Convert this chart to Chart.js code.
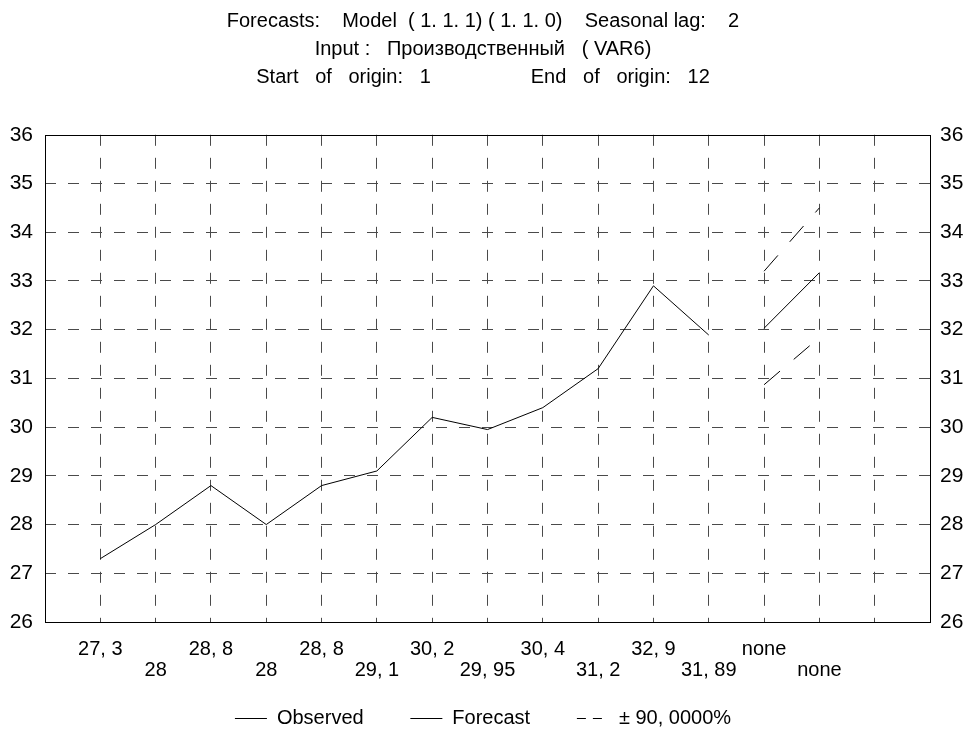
<!DOCTYPE html>
<html>
<head>
<meta charset="utf-8">
<script src="https://cdn.jsdelivr.net/npm/chart.js@4.4.1/dist/chart.umd.min.js"></script>
<style>
  html, body { margin: 0; padding: 0; background: #fff; }
</style>
</head>
<body>
<canvas id="chart" width="966" height="733"></canvas>
<script>
/* ------------------------------------------------------------------ */
/*  Data                                                               */
/* ------------------------------------------------------------------ */

var titleLines = [
  "Forecasts:    Model  ( 1. 1. 1) ( 1. 1. 0)    Seasonal lag:    2",
  "Input :   Производственный   ( VAR6)",
  "Start   of   origin:   1                  End   of   origin:   12"
];

// one label per case, printed under the x axis in two staggered rows
var xLabels  = ["27, 3", "28", "28, 8", "28", "28, 8", "29, 1", "30, 2", "29, 95", "30, 4", "31, 2", "32, 9", "31, 89", "none", "none"];
var observed = [27.3, 28, 28.8, 28, 28.8, 29.1, 30.2, 29.95, 30.4, 31.2, 32.9, 31.89, null, null];
var forecast = [null, null, null, null, null, null, null, null, null, null, null, null, 32.03, 33.17];
var upper    = [null, null, null, null, null, null, null, null, null, null, null, null, 33.2, 34.5];
var lower    = [null, null, null, null, null, null, null, null, null, null, null, null, 30.87, 31.84];

var legendNames = ["Observed", "Forecast", "\u00b1 90, 0000%"];

var yMin = 26, yMax = 36;
var xMax = 16;   // grid runs to case 15, frame to 16

/* ------------------------------------------------------------------ */
/*  Helpers                                                            */
/* ------------------------------------------------------------------ */

Chart.defaults.font.family = "'Liberation Sans', Arial, sans-serif";
Chart.defaults.color = "#000";

function toPoints(values) {
  return values.map(function (v, i) { return { x: i + 1, y: v }; });
}

var frame = {
  id: "frame",
  afterDatasetsDraw: function (chart) {
    var a = chart.chartArea, ctx = chart.ctx;
    ctx.save();
    ctx.strokeStyle = "#000";
    ctx.lineWidth = 1;
    ctx.strokeRect(Math.round(a.left) + 0.5, Math.round(a.top) + 0.5,
                   Math.round(a.right - a.left), Math.round(a.bottom - a.top));
    ctx.restore();
  },
};

var gridColor = "#4a4a4a";
var gridDash = [11, 12];
var boundDash = [21, 18];

// legend gap is kept small so the row sits close to the axis; the
// trailing spaces give the horizontal room between entries instead
function legendItems(chart) {
  return legendNames.map(function (name, i) {
    return {
      text: i < 2 ? name + "    " : name,
      datasetIndex: i,
      hidden: false,
      fillStyle: "rgba(0,0,0,0)",
      strokeStyle: "#000",
      lineWidth: 1,
      lineDash: i === 2 ? [9, 7] : [],
      pointStyle: "line",
      fontColor: "#000",
    };
  });
}

/* ------------------------------------------------------------------ */
/*  Chart                                                              */
/* ------------------------------------------------------------------ */

new Chart(document.getElementById("chart"), {
  type: "line",
  data: {
    datasets: [
      { label: legendNames[0], data: toPoints(observed), borderColor: "#000", borderWidth: 1, pointRadius: 0, fill: false, tension: 0 },
      { label: legendNames[1], data: toPoints(forecast), borderColor: "#000", borderWidth: 1, pointRadius: 0, fill: false, tension: 0 },
      { label: legendNames[2], data: toPoints(upper), borderColor: "#000", borderWidth: 1, borderDash: boundDash, pointRadius: 0, fill: false, tension: 0 },
      { label: "lower", data: toPoints(lower), borderColor: "#000", borderWidth: 1, borderDash: boundDash, pointRadius: 0, fill: false, tension: 0 },
    ],
  },
  options: {
    responsive: false,
    animation: false,
    // half-pixel offsets keep the 1px legend strokes crisp
    layout: { padding: { top: 0, right: 0, bottom: -5.5, left: 0 } },
    plugins: {
      tooltip: { enabled: false },
      title: {
        display: true,
        text: titleLines,
        color: "#000",
        font: { size: 20, weight: "normal", lineHeight: 1.38 },
        padding: { top: 8, bottom: 44 },
      },
      legend: {
        position: "bottom",
        labels: {
          color: "#000",
          font: { size: 20 },
          usePointStyle: true,
          pointStyle: "line",
          pointStyleWidth: 32,
          padding: 24.5,
          generateLabels: legendItems,
        },
      },
    },
    scales: {
      x: {
        type: "linear",
        min: 0,
        max: xMax,
        afterBuildTicks: function (s) {
          s.ticks = [];
          for (var v = 0; v <= xMax; v++) s.ticks.push({ value: v });
        },
        afterFit: function (s) { s.height = 62; },
        ticks: {
          autoSkip: false,
          maxRotation: 0,
          padding: 17,
          color: "#000",
          font: { size: 20, lineHeight: 1.05 },
          callback: function (v) {
            var i = v - 1;
            if (i < 0 || i >= xLabels.length) return "";
            return i % 2 === 0 ? [xLabels[i], ""] : ["", xLabels[i]];
          },
        },
        grid: {
          color: function (ctx) {
            var v = ctx.tick && ctx.tick.value;
            return (v === 0 || v === xMax) ? "rgba(0,0,0,0)" : gridColor;
          },
          drawTicks: false,
        },
        border: { display: false, dash: gridDash },
      },
      y: {
        position: "left",
        min: yMin,
        max: yMax,
        afterFit: function (s) { s.width = 45; },
        ticks: { stepSize: 1, padding: 12, color: "#000", font: { size: 21 } },
        grid: {
          color: function (ctx) {
            var v = ctx.tick && ctx.tick.value;
            return (v === yMin || v === yMax) ? "rgba(0,0,0,0)" : gridColor;
          },
          drawTicks: false,
        },
        border: { display: false, dash: gridDash },
      },
      y2: {
        position: "right",
        min: yMin,
        max: yMax,
        afterFit: function (s) { s.width = 36; },
        ticks: { stepSize: 1, padding: 10, color: "#000", font: { size: 21 } },
        grid: { display: false, drawTicks: false },
        border: { display: false },
      },
    },
  },
  plugins: [frame],
});
</script>
</body>
</html>
